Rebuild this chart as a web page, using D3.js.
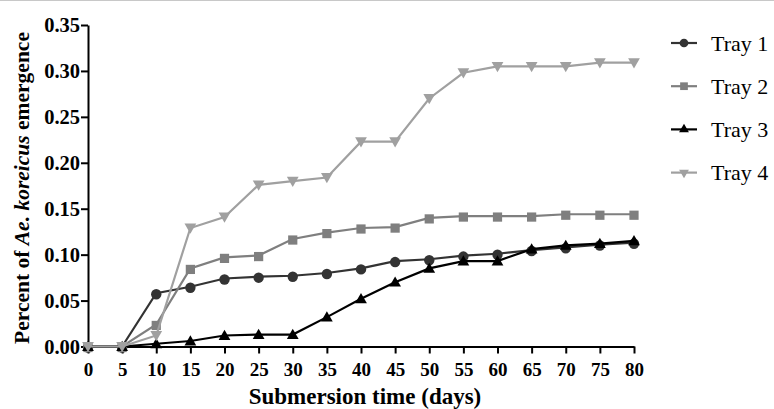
<!DOCTYPE html>
<html>
<head>
<meta charset="utf-8">
<script src="https://cdn.jsdelivr.net/npm/d3@7"></script>
<style>
  body { margin: 0; background: #fff; }
  svg { display: block; font-family: "Liberation Serif", "DejaVu Serif", "Times New Roman", serif; }
</style>
</head>
<body>
<svg width="774" height="409"></svg>
<script>
const days = [0, 5, 10, 15, 20, 25, 30, 35, 40, 45, 50, 55, 60, 65, 70, 75, 80];
const tray1 = [0, 0, 0.058, 0.065, 0.074, 0.076, 0.077, 0.080, 0.085, 0.093, 0.095, 0.099, 0.101, 0.105, 0.108, 0.111, 0.113];
const tray2 = [0, 0, 0.024, 0.085, 0.097, 0.099, 0.117, 0.124, 0.129, 0.130, 0.140, 0.142, 0.142, 0.142, 0.144, 0.144, 0.144];
const tray3 = [0, 0, 0.003, 0.006, 0.012, 0.013, 0.013, 0.032, 0.052, 0.070, 0.085, 0.093, 0.093, 0.106, 0.110, 0.112, 0.115];
const tray4 = [0, 0, 0.012, 0.129, 0.141, 0.176, 0.180, 0.184, 0.223, 0.223, 0.270, 0.298, 0.305, 0.305, 0.305, 0.309, 0.309];
const yTicks = [0, 0.05, 0.10, 0.15, 0.20, 0.25, 0.30, 0.35];

const series = [
  { name: "Tray 1", values: tray1, color: "#333333", symbol: d3.symbolCircle, size: 85, rot: 0 },
  { name: "Tray 2", values: tray2, color: "#7f7f7f", symbol: d3.symbolSquare, size: 85, rot: 0 },
  { name: "Tray 3", values: tray3, color: "#000000", symbol: d3.symbolTriangle, size: 60, rot: 0 },
  { name: "Tray 4", values: tray4, color: "#a0a0a0", symbol: d3.symbolTriangle, size: 60, rot: 180 }
];

const svg = d3.select("svg");

// thin frame line at the top of the figure
svg.append("line")
  .attr("x1", 0).attr("x2", 774).attr("y1", 0.5).attr("y2", 0.5)
  .attr("stroke", "#c8c8c8").attr("stroke-width", 1);

const x = d3.scaleLinear().domain([0, 80]).range([88, 634]);
const y = d3.scaleLinear().domain([0, 0.35]).range([346.5, 25]);

// axes
const xAxis = svg.append("g")
  .attr("transform", `translate(0,${y(0)})`)
  .call(d3.axisBottom(x).tickValues(days).tickSize(7).tickPadding(9).tickSizeOuter(0));
xAxis.selectAll("text").attr("font-size", 19).attr("font-weight", "bold").attr("fill", "#000");

const yAxis = svg.append("g")
  .attr("transform", `translate(${x(0)},0)`)
  .call(d3.axisLeft(y).tickValues(yTicks).tickFormat(d3.format(".2f")).tickSize(7).tickPadding(1).tickSizeOuter(0));
yAxis.selectAll("text").attr("font-size", 20.5).attr("font-weight", "bold").attr("fill", "#000");

svg.selectAll(".domain, .tick line").attr("stroke", "#000").attr("stroke-width", 2);
svg.selectAll("g text").attr("font-family", "Liberation Serif, DejaVu Serif, serif");

// axis titles
svg.append("text")
  .attr("x", 365).attr("y", 404)
  .attr("text-anchor", "middle")
  .attr("font-size", 23).attr("font-weight", "bold")
  .text("Submersion time (days)");

const yt = svg.append("text")
  .attr("transform", "translate(29,188) rotate(-90)")
  .attr("text-anchor", "middle")
  .attr("font-size", 21.5).attr("font-weight", "bold");
yt.append("tspan").text("Percent of ");
yt.append("tspan").attr("font-style", "italic").text("Ae. koreicus");
yt.append("tspan").text(" emergence");

// lines and markers
const line = d3.line().x((d, i) => x(days[i])).y(d => y(d));

series.forEach(s => {
  const g = svg.append("g");
  g.append("path")
    .attr("d", line(s.values))
    .attr("fill", "none")
    .attr("stroke", s.color)
    .attr("stroke-width", 2.2);
  g.selectAll("path.m")
    .data(s.values)
    .enter().append("path")
    .attr("class", "m")
    .attr("d", d3.symbol().type(s.symbol).size(s.size))
    .attr("transform", (d, i) => `translate(${x(days[i])},${y(d) + (s.rot ? -1 : 1)}) rotate(${s.rot})`)
    .attr("fill", s.color);
});

// legend
const legend = svg.append("g");
series.forEach((s, i) => {
  const ly = 43 + i * 43.2;
  legend.append("line")
    .attr("x1", 671).attr("x2", 697).attr("y1", ly).attr("y2", ly)
    .attr("stroke", s.color).attr("stroke-width", 2.2);
  legend.append("path")
    .attr("d", d3.symbol().type(s.symbol).size(s.size * 0.7))
    .attr("transform", `translate(684,${ly}) rotate(${s.rot})`)
    .attr("fill", s.color);
  legend.append("text")
    .attr("x", 711).attr("y", ly + 7.5)
    .attr("font-size", 22)
    .attr("fill", "#000")
    .text(s.name);
});
</script>
</body>
</html>
